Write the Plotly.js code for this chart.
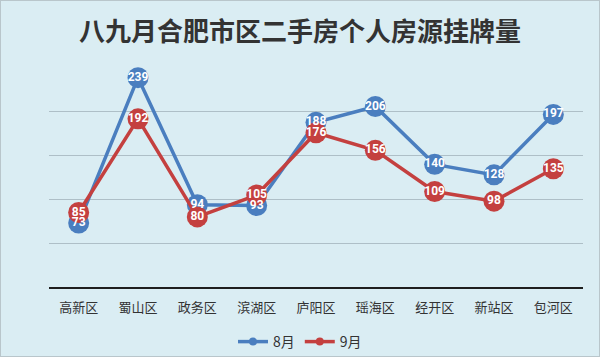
<!DOCTYPE html>
<html>
<head>
<meta charset="utf-8">
<script src="https://cdn.plot.ly/plotly-3.0.1.min.js"></script>
<style>
html,body{margin:0;padding:0;background:#ffffff;}
#chart{width:598px;height:355px;border:1px solid #b9c6cb;}
</style>
</head>
<body>
<div id="chart"></div>
<script>
const categories = ["高新区","蜀山区","政务区","滨湖区","庐阳区","瑶海区","经开区","新站区","包河区"];
const aug = [73, 239, 94, 93, 188, 206, 140, 128, 197];
const sep = [85, 192, 80, 105, 176, 156, 109, 98, 135];
const seriesNames = ["8月","9月"];
const titleText = "八九月合肥市区二手房个人房源挂牌量";

const blue = "#4a7ebf";
const red = "#c4403f";
const cjk = '"Noto Sans CJK SC", sans-serif';

function lineTrace(name, vals, color){
  return {
    type: "scatter",
    mode: "lines+markers",
    name: name,
    x: categories,
    y: vals,
    line: {color: color, width: 3.5},
    marker: {color: color, size: 21, line: {width: 0}},
    cliponaxis: false,
    showlegend: false
  };
}
function textTrace(vals){
  return {
    type: "scatter",
    mode: "text",
    x: categories,
    y: vals,
    text: vals.map(String),
    textposition: "middle center",
    textfont: {family: 'Roboto, "Open Sans", sans-serif', size: 12, color: "#ffffff", weight: "bold"},
    cliponaxis: false,
    showlegend: false,
    hoverinfo: "skip"
  };
}
function legendTrace(name, color){
  return {
    type: "scatter",
    mode: "lines+markers",
    name: name,
    x: [categories[0]],
    y: [null],
    line: {color: color, width: 3.5},
    marker: {color: color, size: 8},
    showlegend: true
  };
}

const data = [
  lineTrace(seriesNames[0], aug, blue),
  lineTrace(seriesNames[1], sep, red),
  textTrace(aug),
  textTrace(sep),
  legendTrace(seriesNames[0], blue),
  legendTrace(seriesNames[1], red)
];

const layout = {
  width: 598,
  height: 355,
  paper_bgcolor: "#daedf3",
  plot_bgcolor: "#daedf3",
  margin: {l: 48, r: 16, t: 67, b: 69},
  title: {
    text: titleText,
    font: {family: cjk, size: 26, color: "#333333", weight: "bold"},
    x: 0.5, xanchor: "center",
    y: 1 - 31/355, yanchor: "middle",
    yref: "container"
  },
  xaxis: {
    type: "category",
    range: [-0.5, 8.5],
    showgrid: false,
    showline: true,
    linecolor: "#1e1e1e",
    linewidth: 2,
    ticks: "",
    tickfont: {family: cjk, size: 13, color: "#333333"},
    ticklabelstandoff: 7,
    fixedrange: true
  },
  yaxis: {
    range: [0, 250],
    dtick: 50,
    showticklabels: false,
    showgrid: true,
    gridcolor: "#aebfc7",
    gridwidth: 1,
    zeroline: false,
    showline: false,
    ticks: "",
    fixedrange: true
  },
  showlegend: true,
  legend: {
    orientation: "h",
    xref: "container", yref: "container",
    x: 0.5, xanchor: "center",
    y: 1 - 341/355, yanchor: "middle",
    font: {family: cjk, size: 14, color: "#333333"},
    bgcolor: "rgba(0,0,0,0)",
    itemwidth: 30,
    tracegroupgap: 0
  }
};

Plotly.newPlot("chart", data, layout, {displayModeBar: false, staticPlot: true});
</script>
</body>
</html>
